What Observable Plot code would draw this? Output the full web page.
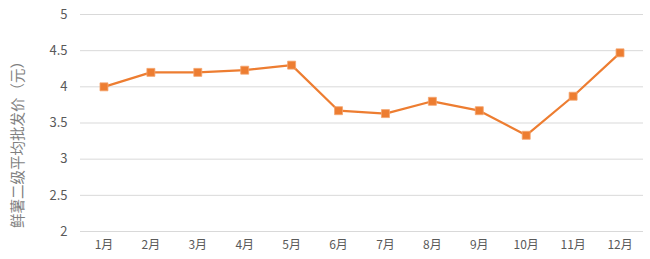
<!DOCTYPE html>
<html>
<head>
<meta charset="utf-8">
<script src="https://cdn.jsdelivr.net/npm/d3@7"></script>
<script src="https://cdn.jsdelivr.net/npm/@observablehq/plot@0.6"></script>
<style>
  html, body { margin: 0; padding: 0; background: #fff; }
  #chart svg { display: block; }
</style>
</head>
<body>
<div id="chart"></div>
<script>
const months = ["1月","2月","3月","4月","5月","6月","7月","8月","9月","10月","11月","12月"];
const prices = [4.0, 4.2, 4.2, 4.23, 4.3, 3.67, 3.63, 3.8, 3.67, 3.33, 3.87, 4.47];
const yTicks = [2, 2.5, 3, 3.5, 4, 4.5, 5];
const yLabel = "鲜薯二级平均批发价（元）";

const data = months.map((m, i) => ({month: m, price: prices[i]}));
const color = "#ED7D31";

const chart = Plot.plot({
  width: 650,
  height: 259,
  marginLeft: 80,
  marginRight: 7,
  marginTop: 14,
  marginBottom: 28,
  style: {fontFamily: "'Noto Sans CJK SC', 'Noto Sans', sans-serif", color: "#595959", background: "#fff"},
  x: {type: "point", domain: months, padding: 0.5, round: false},
  y: {domain: [2, 5]},
  marks: [
    Plot.gridY(yTicks, {stroke: "#D9D9D9", strokeOpacity: 1, strokeWidth: 1}),
    Plot.axisY(yTicks, {tickSize: 0, tickPadding: 13, fontSize: 13, tickFormat: d => String(d), label: null}),
    Plot.text([yLabel], {frameAnchor: "left", textAnchor: "middle", dx: -62, dy: 18, rotate: -90, fontSize: 14.5, fill: "#7F7F7F"}),
    Plot.axisX({tickSize: 0, tickPadding: 9, fontSize: 12, label: null}),
    Plot.line(data, {x: "month", y: "price", stroke: color, strokeWidth: 2.2}),
    Plot.dot(data, {x: "month", y: "price", symbol: "square", r: 4.5, fill: color, stroke: "#F4A46E", strokeWidth: 0.8})
  ]
});
document.getElementById("chart").appendChild(chart);
</script>
</body>
</html>
